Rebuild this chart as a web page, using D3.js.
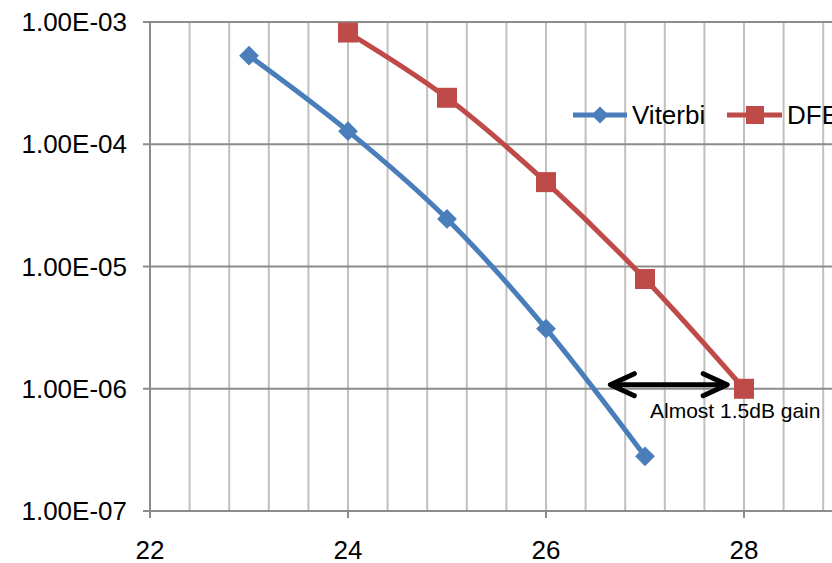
<!DOCTYPE html>
<html>
<head>
<meta charset="utf-8">
<script src="https://d3js.org/d3.v7.min.js"></script>
<style>
  body { margin: 0; background: #fff; }
  svg { display: block; font-family: "Liberation Sans", Arial, sans-serif; }
</style>
</head>
<body>
<svg width="832" height="563"></svg>
<script>
// data
var viterbiX = [23, 24, 25, 26, 27];
var viterbi = [5.3e-4, 1.28e-4, 2.45e-5, 3.1e-6, 2.8e-7];
var dfeX = [24, 25, 26, 27, 28];
var dfe = [8.2e-4, 2.4e-4, 4.9e-5, 7.9e-6, 1.0e-6];
var xTicks = [22, 24, 26, 28];
var yTicks = [1e-7, 1e-6, 1e-5, 1e-4, 1e-3];
var yLabels = ["1.00E-07", "1.00E-06", "1.00E-05", "1.00E-04", "1.00E-03"];
var seriesNames = ["Viterbi", "DFE"];
var colors = ["#4a7ebb", "#be4b48"];
var note = "Almost 1.5dB gain";

var svg = d3.select("svg");

var x = d3.scaleLinear().domain([22, 30]).range([150, 150 + 8 * 99]);
var y = d3.scaleLog().domain([1e-7, 1e-3]).range([511, 22]);

// minor vertical gridlines every 0.4
var vgrid = d3.range(22, 30.01, 0.4);
svg.append("g").selectAll("line").data(vgrid).enter().append("line")
  .attr("x1", function(d) { return x(d); }).attr("x2", function(d) { return x(d); })
  .attr("y1", y(1e-3)).attr("y2", y(1e-7))
  .attr("stroke", "#c0c0c0").attr("stroke-width", 2);

// horizontal gridlines at decades
svg.append("g").selectAll("line").data(yTicks).enter().append("line")
  .attr("x1", 143).attr("x2", 832)
  .attr("y1", function(d) { return y(d); }).attr("y2", function(d) { return y(d); })
  .attr("stroke", "#8c8c8c").attr("stroke-width", 2);

// y axis line
svg.append("line").attr("x1", 150).attr("x2", 150).attr("y1", 22).attr("y2", 511)
  .attr("stroke", "#8c8c8c").attr("stroke-width", 2);

// x tick marks
svg.append("g").selectAll("line").data(xTicks).enter().append("line")
  .attr("x1", function(d) { return x(d); }).attr("x2", function(d) { return x(d); })
  .attr("y1", 511).attr("y2", 518)
  .attr("stroke", "#8c8c8c").attr("stroke-width", 2);

// tick labels
svg.append("g").selectAll("text").data(yTicks).enter().append("text")
  .attr("x", 127).attr("y", function(d) { return y(d) + 9; })
  .attr("text-anchor", "end").attr("font-size", 26).attr("fill", "#000")
  .text(function(d, i) { return yLabels[i]; });

svg.append("g").selectAll("text").data(xTicks).enter().append("text")
  .attr("x", function(d) { return x(d); }).attr("y", 559)
  .attr("text-anchor", "middle").attr("font-size", 26).attr("fill", "#000")
  .text(function(d) { return d; });

// series
var line = d3.line().curve(d3.curveCardinal.tension(0))
  .x(function(d) { return x(d[0]); }).y(function(d) { return y(d[1]); });

var vData = viterbiX.map(function(d, i) { return [d, viterbi[i]]; });
var dData = dfeX.map(function(d, i) { return [d, dfe[i]]; });

svg.append("path").datum(vData).attr("d", line).attr("fill", "none")
  .attr("stroke", colors[0]).attr("stroke-width", 5);
svg.append("path").datum(dData).attr("d", line).attr("fill", "none")
  .attr("stroke", colors[1]).attr("stroke-width", 5);

svg.append("g").selectAll("rect").data(vData).enter().append("rect")
  .attr("x", -7).attr("y", -7).attr("width", 14).attr("height", 14)
  .attr("transform", function(d) { return "translate(" + x(d[0]) + "," + y(d[1]) + ") rotate(45)"; })
  .attr("fill", colors[0]);

svg.append("g").selectAll("rect").data(dData).enter().append("rect")
  .attr("x", function(d) { return x(d[0]) - 10; }).attr("y", function(d) { return y(d[1]) - 10; })
  .attr("width", 20).attr("height", 20)
  .attr("fill", colors[1]);

// legend
var leg = svg.append("g");
leg.append("line").attr("x1", 573).attr("x2", 627).attr("y1", 115).attr("y2", 115)
  .attr("stroke", colors[0]).attr("stroke-width", 5);
leg.append("rect").attr("x", -6).attr("y", -6).attr("width", 12).attr("height", 12)
  .attr("transform", "translate(600,115) rotate(45)").attr("fill", colors[0]);
leg.append("text").attr("x", 632).attr("y", 124).attr("font-size", 26).text(seriesNames[0]);
leg.append("line").attr("x1", 727).attr("x2", 782).attr("y1", 115).attr("y2", 115)
  .attr("stroke", colors[1]).attr("stroke-width", 5);
leg.append("rect").attr("x", 746).attr("y", 106).attr("width", 18).attr("height", 18)
  .attr("fill", colors[1]);
leg.append("text").attr("x", 787).attr("y", 124).attr("font-size", 26).text(seriesNames[1]);

// annotation arrow
var ax1 = x(26.65), ax2 = x(27.83), ay = y(1.08e-6);
svg.append("line").attr("x1", ax1 + 2).attr("x2", ax2 - 2).attr("y1", ay).attr("y2", ay)
  .attr("stroke", "#000").attr("stroke-width", 5);
svg.append("path")
  .attr("d", "M" + (ax1 + 24) + "," + (ay - 11) + "L" + ax1 + "," + ay + "L" + (ax1 + 24) + "," + (ay + 11) +
             "M" + (ax2 - 24) + "," + (ay - 11) + "L" + ax2 + "," + ay + "L" + (ax2 - 24) + "," + (ay + 11))
  .attr("fill", "none").attr("stroke", "#000").attr("stroke-width", 5)
  .attr("stroke-linecap", "round").attr("stroke-linejoin", "round");
svg.append("text").attr("x", 650).attr("y", 418).attr("font-size", 21).text(note);
</script>
</body>
</html>
